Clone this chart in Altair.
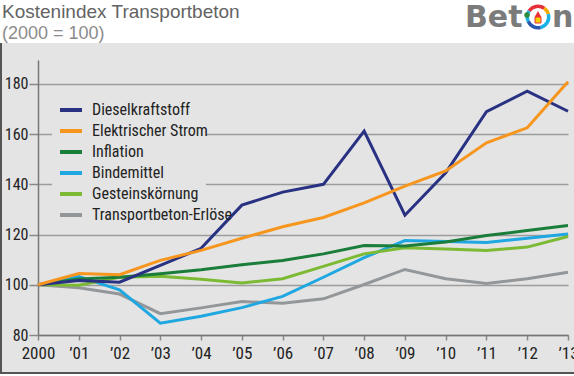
import altair as alt
import pandas as pd

years = ["2000", "’01", "’02", "’03", "’04", "’05", "’06", "’07", "’08", "’09", "’10", "’11", "’12", "’13"]
series_names = ["Dieselkraftstoff", "Elektrischer Strom", "Inflation", "Bindemittel", "Gesteinskörnung", "Transportbeton-Erlöse"]
series_colors = ["#283182", "#f7961e", "#1b7d3a", "#1fa7e1", "#7cba34", "#949799"]

diesel = [100, 101.7, 101.0, 107.7, 114.5, 131.7, 136.9, 140.0, 161.2, 127.7, 144.6, 168.9, 177.1, 169.1]
strom = [100, 104.5, 104.0, 109.7, 113.7, 118.5, 123.1, 126.8, 132.6, 139.3, 145.3, 156.5, 162.5, 180.8]
inflation = [100, 102.3, 103.0, 104.4, 106.0, 108.0, 109.7, 112.3, 115.6, 115.4, 117.0, 119.6, 121.6, 123.6]
bindemittel = [100, 103.3, 98.0, 84.7, 87.5, 90.9, 95.4, 103.0, 110.8, 117.6, 117.2, 116.8, 118.5, 120.2]
gestein = [100, 99.8, 103.0, 103.4, 102.2, 100.7, 102.4, 107.3, 112.3, 114.7, 114.2, 113.6, 115.0, 119.2]
erloese = [100, 98.8, 96.3, 88.5, 90.8, 93.3, 92.6, 94.4, 100.1, 106.1, 102.4, 100.5, 102.4, 105.0]

y_ticks = [80, 100, 120, 140, 160, 180]

# draw order (bottom to top)
draw_order = [
    ("Transportbeton-Erlöse", erloese),
    ("Bindemittel", bindemittel),
    ("Gesteinskörnung", gestein),
    ("Inflation", inflation),
    ("Dieselkraftstoff", diesel),
    ("Elektrischer Strom", strom),
]
rows = []
for name, vals in draw_order:
    for yr, v in zip(years, vals):
        rows.append({"Jahr": yr, "Index": v, "Serie": name})
df = pd.DataFrame(rows)

BG = "#e4e4e4"
NARROW = "Roboto Condensed, Roboto, Liberation Sans, sans-serif"
W, H = 530, 275

one = pd.DataFrame({"k": [0]})

# panel behind the legend (hides gridlines there, stays under the lines)
legend_bg = alt.Chart(one).mark_rect(color=BG).encode(
    x=alt.value(14), x2=alt.value(168), y=alt.value(36), y2=alt.value(156))

lines = alt.Chart(df).mark_line(strokeWidth=3).encode(
    x=alt.X("Jahr:O", sort=years, scale=alt.Scale(type="point", padding=0),
            axis=alt.Axis(title="", labelAngle=0, grid=False, tickSize=5, tickWidth=1.5,
                          tickColor="#888888", domainColor="#777777", domainWidth=1.5,
                          labelFontSize=17, labelFont=NARROW, labelColor="#222222",
                          labelPadding=5)),
    y=alt.Y("Index:Q", scale=alt.Scale(domain=[80, 189.5], nice=False, zero=False),
            axis=alt.Axis(title="", values=y_ticks, grid=True, gridColor="#9c9c9c", gridWidth=1.5,
                          tickSize=9, tickWidth=1.5, tickColor="#888888",
                          domainColor="#777777", domainWidth=1.5,
                          labelFontSize=16, labelFont=NARROW, labelColor="#222222",
                          labelPadding=1)),
    color=alt.Color("Serie:N", scale=alt.Scale(domain=series_names, range=series_colors),
                    legend=alt.Legend(title=None, orient="none", legendX=14, legendY=31,
                                      padding=6, symbolType="stroke",
                                      symbolSize=484, symbolStrokeWidth=4,
                                      labelFontSize=16, labelFont=NARROW, labelColor="#222222",
                                      labelOffset=8, rowPadding=-4, labelLimit=400)),
    detail="Serie:N",
)

top_white = alt.Chart(one).mark_rect(color="white").encode(
    x=alt.value(-38), x2=alt.value(536), y=alt.value(-60), y2=alt.value(-17))
bottom_white = alt.Chart(one).mark_rect(color="white").encode(
    x=alt.value(-38), x2=alt.value(536), y=alt.value(314), y2=alt.value(316))
left_border = alt.Chart(one).mark_rule(color="#555555", strokeWidth=2).encode(
    x=alt.value(-37), y=alt.value(-17), y2=alt.value(314))
bottom_border = alt.Chart(one).mark_rule(color="#555555", strokeWidth=2).encode(
    x=alt.value(-38), x2=alt.value(536), y=alt.value(313))

title = alt.Chart(one).mark_text(text="Kostenindex Transportbeton", align="left", baseline="alphabetic",
                                 fontSize=19, font="Liberation Sans, Arial, sans-serif",
                                 color="#636363").encode(x=alt.value(-36), y=alt.value(-42))
subtitle = alt.Chart(one).mark_text(text="(2000 = 100)", align="left", baseline="alphabetic",
                                    fontSize=18, font="Liberation Sans, Arial, sans-serif",
                                    color="#8c8c8c").encode(x=alt.value(-36), y=alt.value(-21))

LOGO_FONT = "DejaVu Sans, Liberation Sans, sans-serif"
logo_bet = alt.Chart(one).mark_text(text="Bet", align="left", baseline="alphabetic", fontSize=30,
                                    fontWeight="bold", font=LOGO_FONT,
                                    color="#7b7b7b").encode(x=alt.value(427), y=alt.value(-33))
logo_n = alt.Chart(one).mark_text(text="n", align="left", baseline="alphabetic", fontSize=30,
                                  fontWeight="bold", font=LOGO_FONT,
                                  color="#7b7b7b").encode(x=alt.value(514), y=alt.value(-33))

arc_segments = [(5.3, 6.9, "#e8303a"), (0.62, 1.3, "#f5a800"), (1.3, 2.9, "#19b1e6"),
                (2.9, 4.3, "#2a55b0"), (4.3, 5.3, "#19b1e6")]
arcs = []
for t1, t2, c in arc_segments:
    arcs.append(alt.Chart(one).mark_arc(color=c).encode(
        x=alt.value(500), y=alt.value(-43), theta=alt.value(t1), theta2=alt.value(t2),
        radius=alt.value(12.5), radius2=alt.value(9)))
house = alt.Chart(one).mark_square(color="#f5d000", size=36, opacity=1, stroke="#e8303a", strokeWidth=1).encode(
    x=alt.value(500), y=alt.value(-40))
roof = alt.Chart(one).mark_point(shape="triangle-up", filled=True, color="#e8303a", size=45, opacity=1).encode(
    x=alt.value(500), y=alt.value(-46))
tree = alt.Chart(one).mark_circle(color="#2e8b3a", size=30, opacity=1).encode(
    x=alt.value(489), y=alt.value(-45))

chart = alt.layer(
    legend_bg, top_white, bottom_white, lines, left_border, bottom_border, title, subtitle,
    logo_bet, logo_n, *arcs, house, roof, tree
).properties(
    width=W, height=H,
    autosize=alt.AutoSizeParams(type="none"),
    padding={"left": 38, "top": 60, "right": 6, "bottom": 41},
    background=BG,
).configure_view(strokeWidth=0)

chart.save("out.html", embed_options={"renderer": "svg", "actions": False})
